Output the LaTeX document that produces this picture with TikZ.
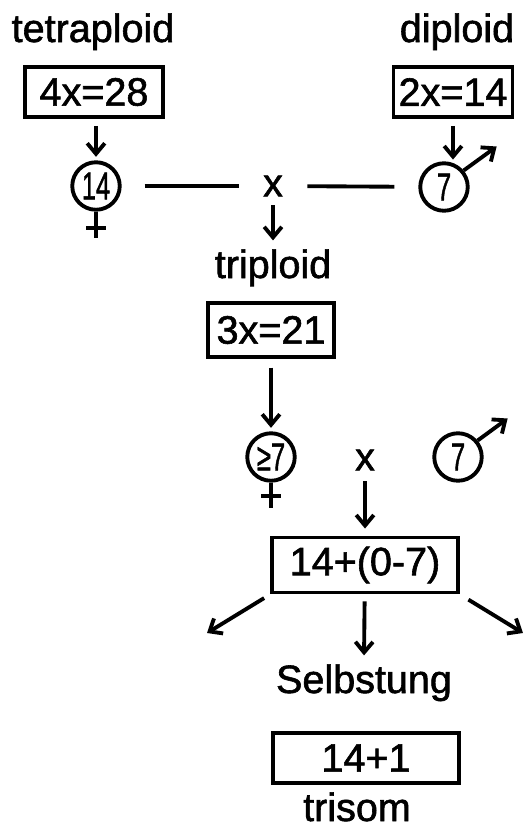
\documentclass[tikz,border=0pt]{standalone}
\usepackage{fontspec}
\setmainfont{Liberation Sans}[UprightFeatures={FakeBold=1.5}]
\usepackage{graphicx}
\usetikzlibrary{arrows.meta, calc}

\newcommand{\chromnum}[1]{\scalebox{0.66}[1]{#1}}

\begin{document}
\begin{tikzpicture}[
    x=0.02cm, y=-0.02cm,
    line width=2.2pt,
    font=\fontsize{22.5}{27}\selectfont,
    word/.style={inner sep=2pt, anchor=base},
    count/.style={draw, rectangle, minimum height=1.0cm, inner sep=2pt, align=center},
    chromo/.style={draw, circle, minimum size=0.95cm, inner sep=0pt, font=\fontsize{22}{26}\selectfont},
    cross/.style={inner sep=2pt},
    arrow/.style={-{Straight Barb[length=6pt, width=10pt]}}
]
    \useasboundingbox (0,0) rectangle (523,832);

    % ================= PARENTS =================
    \node[word] (TETRA) at (93, 42) {tetraploid};
    \node[word] (DI) at (457, 42) {diploid};
    \node[count, minimum width=2.76cm] (B428) at (94, 92) {4x=28};
    \node[count, minimum width=2.38cm] (B214) at (453, 92) {2x=14};

    \node[chromo] (F14) at (96, 186) {\chromnum{14}};
    \node[chromo] (M7A) at (444, 187) {\chromnum{7}};
    \node[cross] (X1) at (273, 186) {x};

    \draw[arrow, shorten <=4pt, shorten >=2pt] (F14.north |- B428.south) -- (F14.north);
    \draw[arrow, shorten <=4pt, shorten >=1pt] (B214.south) -- (B214.south |- M7A.north);
    \draw[shorten <=0.46cm, shorten >=0.38cm] (F14) -- (X1);
    \draw[shorten <=0.38cm, shorten >=0.48cm] (X1) -- (M7A);

    % female / male signs
    \draw (F14.south) -- ++(0, 26);
    \draw ($(F14.south)+(-10, 16)$) -- ++(20, 0);
    \draw[arrow] (M7A.40) -- ++(33, -24);

    % ================= TRIPLOID =================
    \node[word] (TRI) at (273, 278) {triploid};
    \node[count, minimum width=2.52cm, minimum height=1.08cm] (B321) at (271, 330) {3x=21};

    \draw[arrow, shorten <=2pt, shorten >=2pt] (X1) -- (TRI.north);

    \node[chromo] (F7) at (271, 457) {\chromnum{≥7}};
    \node[chromo] (M7B) at (458, 457) {\chromnum{7}};
    \node[cross] (X2) at (365, 460) {x};

    \draw[arrow, shorten <=5pt, shorten >=2pt] (B321) -- (F7);
    \draw (F7.south) -- ++(0, 25);
    \draw ($(F7.south)+(-10, 13)$) -- ++(20, 0);
    \draw[arrow] (M7B.40) -- ++(30, -22);

    % ================= OFFSPRING =================
    \node[count, minimum width=3.72cm, minimum height=1.1cm] (B1407) at (365, 565) {14+(0-7)};
    \draw[arrow, shorten <=3pt, shorten >=4pt] (X2) -- (B1407);

    \coordinate (LEFT) at (207, 633);
    \coordinate (RIGHT) at (523, 633);
    \draw[arrow, shorten <=0.14cm] (B1407.south west) -- (LEFT);
    \draw[arrow, shorten <=0.2cm] (B1407.south east) -- (RIGHT);

    \node[word] (SELB) at (364, 693) {Selbstung};
    \draw[arrow, shorten <=4pt, shorten >=2pt] (B1407) -- (SELB.north);

    \node[count, minimum width=3.72cm] (B141) at (366, 758) {14+1};
    \node[word] (TRIS) at (357, 821) {trisom};

\end{tikzpicture}
\end{document}
